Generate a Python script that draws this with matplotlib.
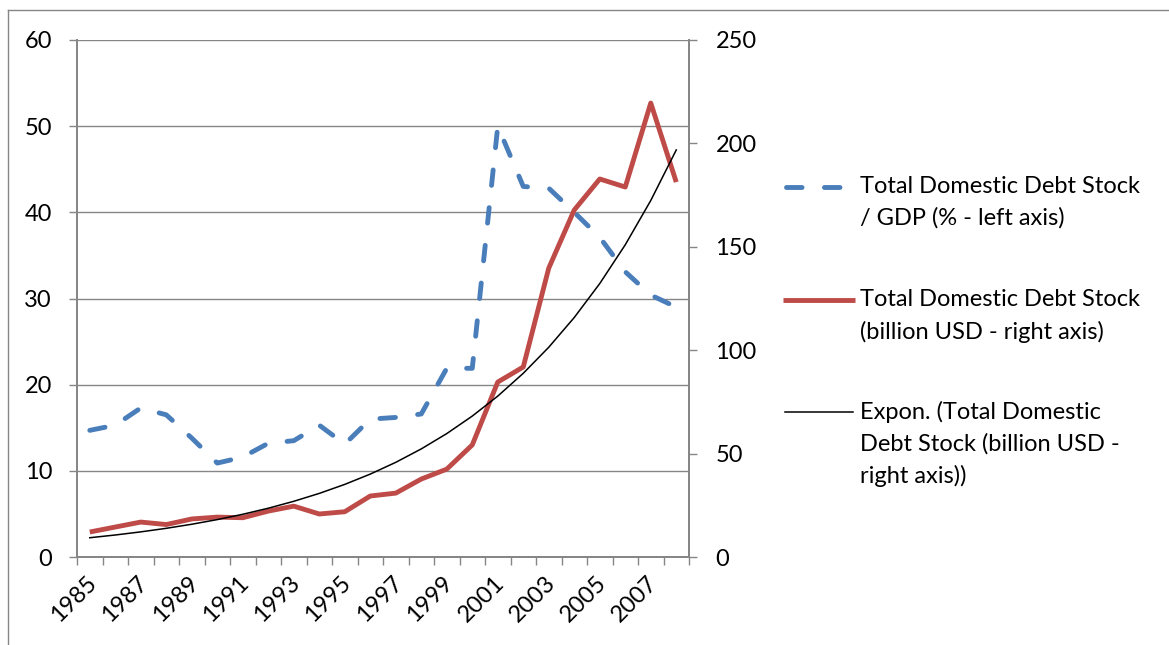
import numpy as np
import matplotlib
matplotlib.use('Agg')
import matplotlib.pyplot as plt
from matplotlib.lines import Line2D
from matplotlib.transforms import ScaledTranslation

plt.rcParams['font.family'] = ['Lato', 'DejaVu Sans']

years = list(range(1985, 2009))
debt_gdp = [14.7, 15.3, 17.3, 16.5, 13.8, 10.9, 11.6, 13.2, 13.5, 15.3, 13.1, 16.0,
            16.2, 16.6, 21.9, 21.9, 50.0, 43.0, 42.8, 40.0, 37.1, 33.1, 30.4, 29.0]
debt_usd = [12.1, 14.5, 16.9, 15.7, 18.4, 19.3, 19.0, 22.2, 24.6, 20.8, 21.9, 29.5,
            30.9, 37.7, 42.5, 54.2, 84.6, 91.9, 139.7, 167.8, 182.8, 178.9, 219.5, 181.3]

labels = ['Total Domestic Debt Stock\n/ GDP (% - left axis)',
          'Total Domestic Debt Stock\n(billion USD - right axis)',
          'Expon. (Total Domestic\nDebt Stock (billion USD -\nright axis))']

blue = '#4A7EBB'
red = '#BE4B48'
grey = '#868686'
FS = 17

x = np.arange(len(years))
# exponential trendline (least squares on log values, as Excel does)
b, a = np.polyfit(x, np.log(debt_usd), 1)
trend = np.exp(a + b * x)

fig = plt.figure(figsize=(11.69, 6.45), dpi=100, facecolor='white')
ax = fig.add_axes([0.0659, 0.1364, 0.5235, 0.8016])
ax2 = ax.twinx()

blue_style = dict(color=blue, lw=3.5, dashes=(3.2, 4.6), dash_capstyle='round')
red_style = dict(color=red, lw=3.5, solid_capstyle='butt')
trend_style = dict(color='black', lw=1.1)

ax.plot(x, debt_gdp, zorder=3, **blue_style)
ax2.plot(x, debt_usd, zorder=3, **red_style)
ax2.plot(x, trend, zorder=4, **trend_style)

ax.set_xlim(-0.5, len(years) - 0.5)
ax.set_ylim(0, 60)
ax2.set_ylim(0, 250)
ax.set_yticks(range(0, 61, 10))
ax2.set_yticks(range(0, 251, 50))

ax.set_xticks(x[::2])
ax.set_xticklabels([str(y) for y in years[::2]], rotation=45, ha='right',
                   va='center', rotation_mode='anchor')
ax.set_xticks(np.arange(-0.5, len(years), 1), minor=True)
ax.tick_params(axis='y', length=6, color=grey, width=1, pad=12, labelsize=FS)
ax2.tick_params(axis='y', length=6, color=grey, width=1, pad=13, labelsize=FS)
ax.tick_params(axis='x', which='major', length=0, pad=16, labelsize=FS)
ax.tick_params(axis='x', which='minor', length=6, color=grey, width=1)
shift = ScaledTranslation(3 / 100, 0, fig.dpi_scale_trans)
for lbl in ax.get_xticklabels():
    lbl.set_transform(lbl.get_transform() + shift)
for a_ in (ax, ax2):
    for s in a_.spines.values():
        s.set_color(grey)
        s.set_linewidth(1.3)
    a_.spines['top'].set_visible(False)

ax.grid(axis='y', color=grey, lw=1.0)
ax.set_axisbelow(True)
ax2.patch.set_visible(False)

# legend drawn by hand so the marker sits on the first text line
handles = [(blue_style, 785.5, 842.5), (red_style, 783, 855), (trend_style, 785, 853)]
entry_y = [187, 300, 412]
for (h, x0, x1), lab, yy in zip(handles, labels, entry_y):
    yf = 1 - yy / 645
    fig.add_artist(Line2D([x0 / 1169, x1 / 1169], [yf, yf], **h))
    fig.text(860 / 1169, yf + 11 / 645, lab, fontsize=FS, va='top', ha='left',
             linespacing=1.58)

# chart border
fig.add_artist(Line2D([8 / 1169, 8 / 1169], [0, 1 - 10 / 645], color=grey, lw=1))
fig.add_artist(Line2D([8 / 1169, 1], [1 - 10 / 645, 1 - 10 / 645], color=grey, lw=1))

fig.savefig('out.png', dpi=100, facecolor='white')
